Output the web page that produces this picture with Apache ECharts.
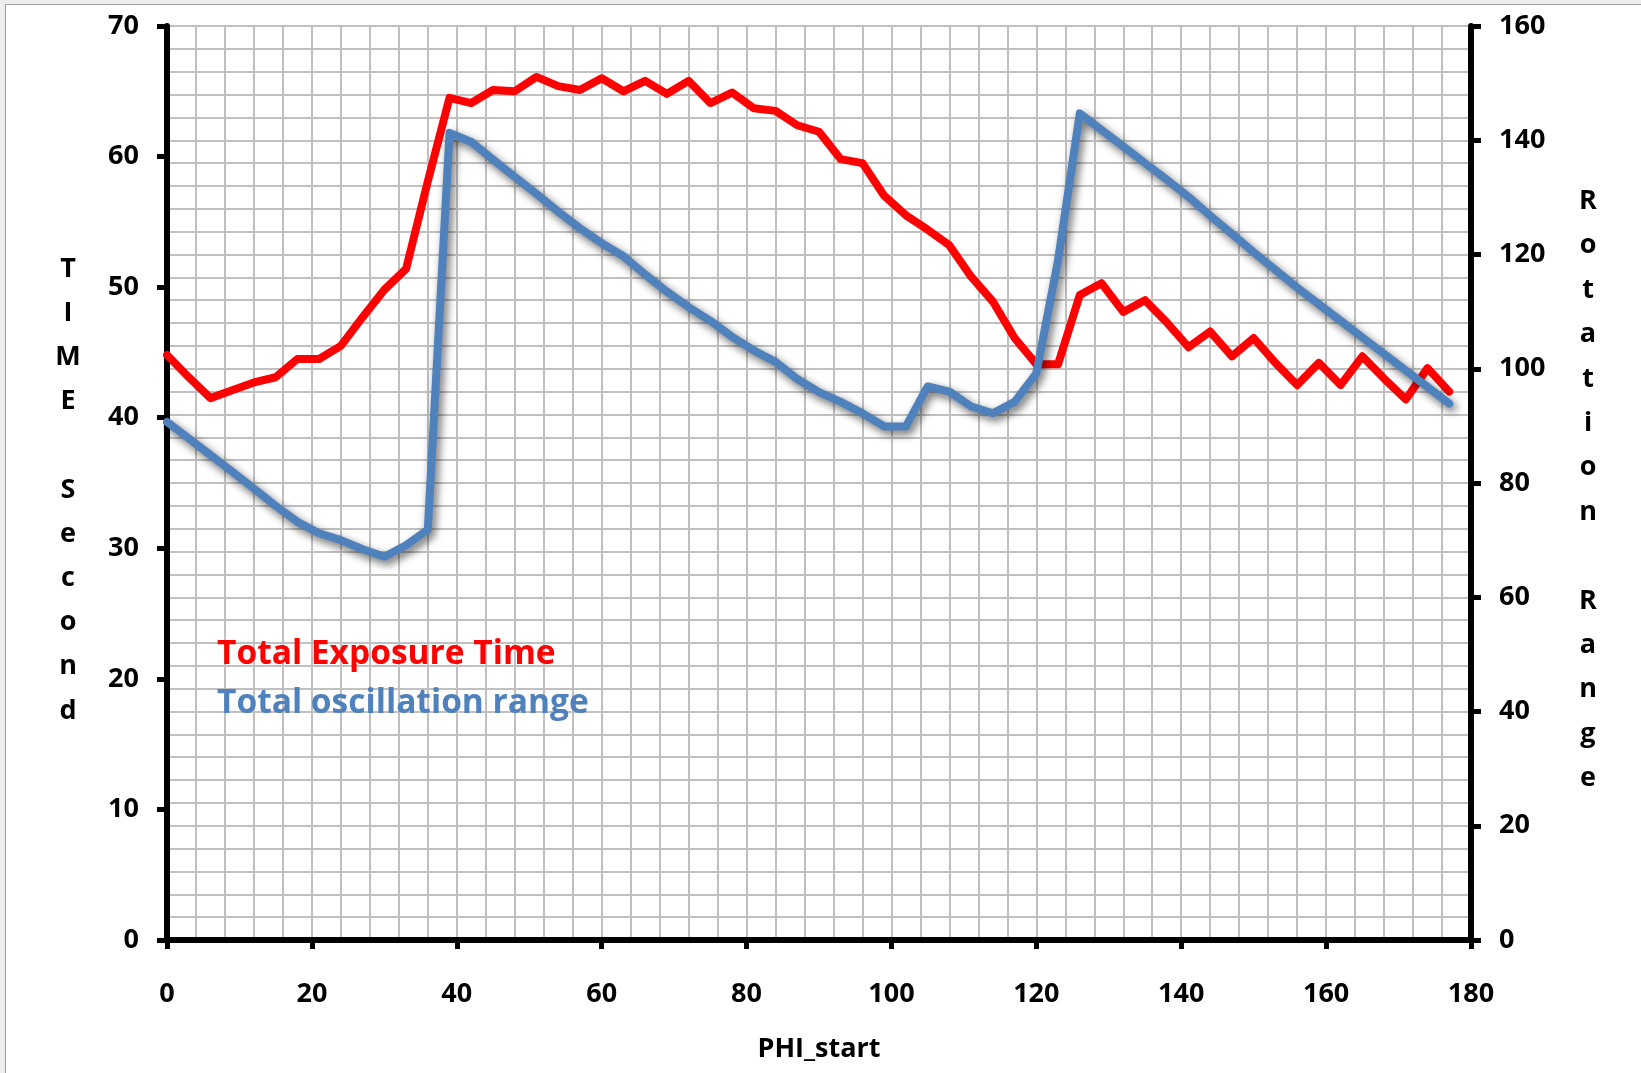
<!DOCTYPE html>
<html>
<head>
<meta charset="utf-8">
<script src="https://cdn.jsdelivr.net/npm/echarts@6/dist/echarts.min.js"></script>
<style>
  html, body { margin: 0; padding: 0; background: #ededed; }
  #sheet {
    position: absolute; left: 5px; top: 4px; width: 1640px; height: 1072px;
    background: #ffffff; border-left: 1.5px solid #9c9c9c; border-top: 1.5px solid #9c9c9c;
  }
  #chart { position: absolute; left: 0; top: 0; width: 1641px; height: 1073px; }
</style>
</head>
<body>
<div id="sheet"></div>
<div id="chart"></div>
<script>
// PHI_start positions (degrees)
const phiStart = [
  0, 3, 6, 9, 12, 15, 18, 21, 24, 27, 30, 33, 36, 39, 42, 45, 48, 51, 54, 57,
  60, 63, 66, 69, 72, 75, 78, 81, 84, 87, 90, 93, 96, 99, 102, 105, 108, 111, 114, 117,
  120, 123, 126, 129, 132, 135, 138, 141, 144, 147, 150, 153, 156, 159, 162, 165, 168, 171, 174, 177
];

// Total exposure time (seconds), left axis
const exposureTime = [
  44.8, 43.1, 41.5, 42.1, 42.7, 43.1, 44.5, 44.5, 45.5, 47.7, 49.8, 51.4, 58.1, 64.5, 64.1, 65.1, 65.0, 66.1, 65.4, 65.1,
  66.0, 65.0, 65.8, 64.8, 65.8, 64.1, 64.9, 63.7, 63.5, 62.4, 61.9, 59.8, 59.5, 57.0, 55.5, 54.4, 53.2, 50.8, 48.9, 46.1,
  44.1, 44.1, 49.4, 50.3, 48.1, 49.0, 47.3, 45.4, 46.6, 44.7, 46.1, 44.2, 42.5, 44.2, 42.5, 44.7, 43.0, 41.4, 43.8, 42.0
];

// Total oscillation range (degrees), right axis
const oscillationRange = [
  90.7, 87.8, 84.9, 82.0, 79.0, 76.0, 73.2, 71.2, 70.0, 68.4, 67.1, 69.1, 71.8, 141.3, 139.7, 136.6, 133.6, 130.6, 127.5, 124.6,
  122.0, 119.7, 116.5, 113.5, 110.8, 108.4, 105.6, 103.2, 101.2, 98.2, 95.9, 94.2, 92.2, 89.9, 89.9, 96.9, 96.0, 93.4, 92.2, 94.2,
  99.2, 119.0, 144.7, 141.8, 138.9, 136.0, 133.1, 130.1, 126.8, 123.6, 120.4, 117.3, 114.2, 111.3, 108.4, 105.5, 102.6, 99.7, 96.8, 93.9
];

const seriesNames = ['Total Exposure Time', 'Total oscillation range'];
const seriesColors = ['#ff0000', '#4f81bd'];

// Axis titles, written one letter per line
const timeAxisTitle = ['T', 'I', 'M', 'E', '', 'S', 'e', 'c', 'o', 'n', 'd'];
const rangeAxisTitle = ['R', 'o', 't', 'a', 't', 'i', 'o', 'n', '', 'R', 'a', 'n', 'g', 'e'];

const FONT = "'Open Sans', 'Liberation Sans', sans-serif";
const gridColor = '#c0c0c0';

const labelStyle = { fontFamily: FONT, fontSize: 27, fontWeight: 'bold', color: '#000' };
const axisNameStyle = { fontFamily: FONT, fontSize: 27, fontWeight: 'bold', color: '#000' };

// Stacked title: a short spacer line on top nudges the column slightly down
function stackedTitle(letters) {
  return '{pad|}\n' + letters.map(c => '{l|' + c + '}').join('\n');
}
function stackedTitleStyle(lineH) {
  return Object.assign({
    align: 'center',
    verticalAlign: 'middle',
    rich: {
      pad: { lineHeight: 14, fontSize: 10 },
      l: Object.assign({ lineHeight: lineH, align: 'center' }, axisNameStyle)
    }
  }, axisNameStyle);
}

const chart = echarts.init(document.getElementById('chart'), null, { renderer: 'canvas' });

chart.setOption({
  backgroundColor: 'transparent',
  animation: false,
  textStyle: { fontFamily: FONT },
  grid: { left: 167, right: 170, top: 26, bottom: 133, containLabel: false },
  legend: {
    left: 207,
    top: 629,
    orient: 'vertical',
    icon: 'none',
    itemWidth: 0,
    itemHeight: 14,
    itemGap: 9,
    selectedMode: false,
    data: [
      { name: seriesNames[0], textStyle: { color: seriesColors[0] } },
      { name: seriesNames[1], textStyle: { color: seriesColors[1] } }
    ],
    textStyle: { fontFamily: FONT, fontSize: 33.5, fontWeight: 'bold', lineHeight: 40 }
  },
  xAxis: {
    type: 'value',
    min: 0,
    max: 180,
    interval: 20,
    name: 'PHI_start',
    nameLocation: 'middle',
    nameGap: 109,
    nameTextStyle: Object.assign({ verticalAlign: 'middle' }, axisNameStyle),
    axisLine: { show: true, onZero: false, lineStyle: { color: '#000', width: 6 } },
    axisTick: { show: true, length: 9, lineStyle: { color: '#000', width: 5 } },
    axisLabel: Object.assign({ margin: 41 }, labelStyle),
    splitLine: { show: true, lineStyle: { color: gridColor, width: 2 } },
    minorTick: { show: false, splitNumber: 5 },
    minorSplitLine: { show: true, lineStyle: { color: gridColor, width: 2 } }
  },
  yAxis: [
    {
      type: 'value',
      position: 'left',
      min: 0,
      max: 70,
      interval: 10,
      name: stackedTitle(timeAxisTitle),
      nameLocation: 'middle',
      nameRotate: 0,
      nameGap: 99,
      nameTextStyle: stackedTitleStyle(44.2),
      axisLine: { show: true, onZero: false, lineStyle: { color: '#000', width: 6 } },
      axisTick: { show: true, length: 10, lineStyle: { color: '#000', width: 5 } },
      axisLabel: Object.assign({ margin: 28 }, labelStyle),
      splitLine: { show: false }
    },
    {
      type: 'value',
      position: 'right',
      min: 0,
      max: 160,
      interval: 20,
      name: stackedTitle(rangeAxisTitle),
      nameLocation: 'middle',
      nameRotate: 0,
      nameGap: 117,
      nameTextStyle: stackedTitleStyle(44.4),
      axisLine: { show: true, onZero: false, lineStyle: { color: '#000', width: 6 } },
      axisTick: { show: true, length: 10, lineStyle: { color: '#000', width: 5 } },
      axisLabel: Object.assign({ margin: 28 }, labelStyle),
      splitLine: { show: true, lineStyle: { color: gridColor, width: 2 } },
      minorTick: { show: false, splitNumber: 5 },
      minorSplitLine: { show: true, lineStyle: { color: gridColor, width: 2 } }
    }
  ],
  series: [
    {
      name: seriesNames[0],
      type: 'line',
      yAxisIndex: 0,
      data: phiStart.map((p, i) => [p, exposureTime[i]]),
      symbol: 'none',
      color: seriesColors[0],
      lineStyle: { color: seriesColors[0], width: 8, join: 'round', cap: 'round' },
      z: 3
    },
    {
      name: seriesNames[1],
      type: 'line',
      yAxisIndex: 1,
      data: phiStart.map((p, i) => [p, oscillationRange[i]]),
      symbol: 'none',
      color: seriesColors[1],
      lineStyle: {
        color: seriesColors[1], width: 8, join: 'round', cap: 'round',
        shadowColor: 'rgba(0,0,0,0.6)', shadowBlur: 8, shadowOffsetX: 3, shadowOffsetY: 4
      },
      z: 4
    }
  ]
});
</script>
</body>
</html>
